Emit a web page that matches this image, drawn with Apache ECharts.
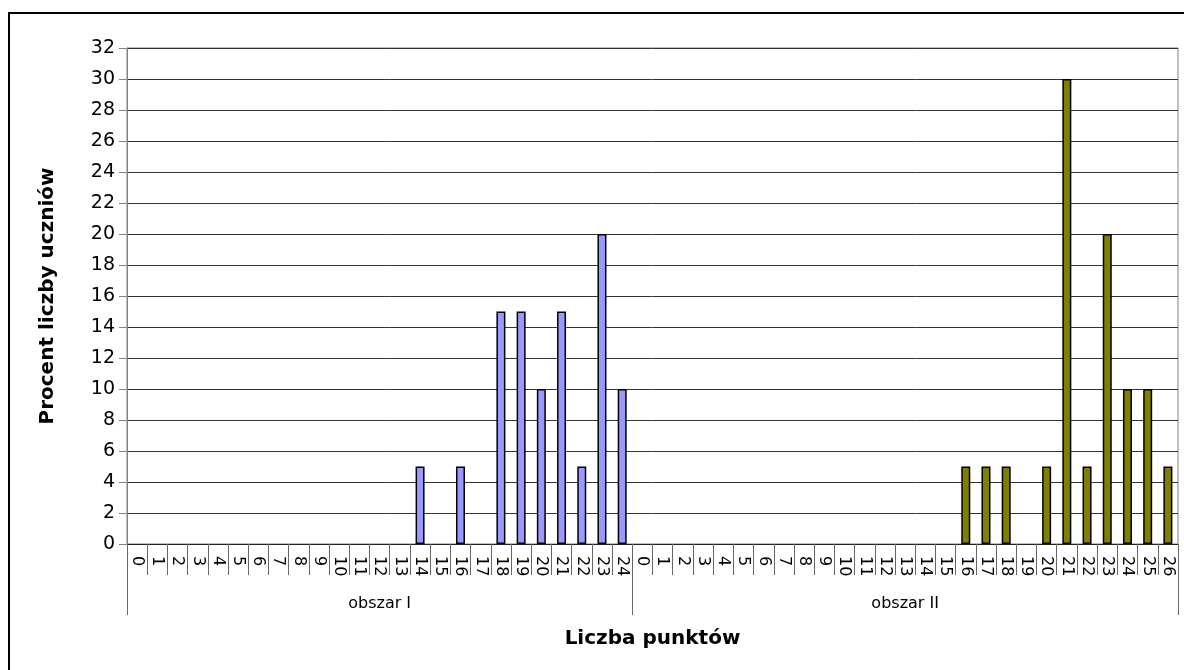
<!DOCTYPE html>
<html>
<head>
<meta charset="utf-8">
<script src="https://cdn.jsdelivr.net/npm/echarts@6/dist/echarts.min.js"></script>
<style>
  html, body { margin: 0; padding: 0; background: #fff; overflow: hidden; }
  #frame { position: absolute; left: 8px; top: 12px; width: 1300px; height: 800px; border: 2.5px solid #000; box-sizing: border-box; }
  #chart { position: absolute; left: 0; top: 0; width: 1184px; height: 670px; }
</style>
</head>
<body>
<div id="frame"></div>
<div id="chart"></div>
<script>
// Category labels (points) for the two areas
const catsArea1 = ['0','1','2','3','4','5','6','7','8','9','10','11','12','13','14','15','16','17','18','19','20','21','22','23','24'];
const catsArea2 = ['0','1','2','3','4','5','6','7','8','9','10','11','12','13','14','15','16','17','18','19','20','21','22','23','24','25','26'];
// Percent of students
const valuesArea1 = [0,0,0,0,0,0,0,0,0,0,0,0,0,0,5,0,5,0,15,15,10,15,5,20,10];
const valuesArea2 = [0,0,0,0,0,0,0,0,0,0,0,0,0,0,0,0,5,5,5,0,5,30,5,20,10,10,5];
const groupNames = ['obszar I', 'obszar II'];
const yTicks = { min: 0, max: 32, interval: 2 };

const categories = catsArea1.concat(catsArea2);
const n1 = catsArea1.length, n2 = catsArea2.length, total = n1 + n2;
function toItems(arr) {
  return arr.map(function (v) {
    return v === 0 ? { value: v, itemStyle: { borderWidth: 0 } } : v;
  });
}
const s1 = toItems(valuesArea1).concat(new Array(n2).fill(null));
const s2 = new Array(n1).fill(null).concat(toItems(valuesArea2));

const chart = echarts.init(document.getElementById('chart'), null, { renderer: 'canvas' });
chart.setOption({
  backgroundColor: 'transparent',
  animation: false,
  grid: { left: 127, right: 6, top: 48, bottom: 126, show: true, borderColor: '#808080', borderWidth: 1 },
  xAxis: [
    {
      type: 'category',
      data: categories,
      boundaryGap: true,
      axisLine: { show: true, lineStyle: { color: '#222', width: 1 } },
      axisTick: { show: true, interval: 0, length: 31, lineStyle: { color: '#666' } },
      axisLabel: { interval: 0, rotate: -90, margin: 12, fontFamily: 'DejaVu Sans', fontSize: 16, color: '#000' },
      splitLine: { show: false },
      name: 'Liczba punktów',
      nameLocation: 'middle',
      nameGap: 85,
      nameTextStyle: { fontFamily: 'DejaVu Sans', fontWeight: 'bold', fontSize: 20, color: '#000' }
    },
    {
      type: 'value',
      min: 0,
      max: total,
      position: 'bottom',
      axisLine: { show: false },
      axisTick: { show: true, customValues: [0, n1, total], length: 71, lineStyle: { color: '#666' } },
      axisLabel: {
        show: true,
        customValues: [n1 / 2, n1 + n2 / 2],
        margin: 52,
        fontFamily: 'DejaVu Sans', fontSize: 16, color: '#000',
        formatter: function (v) { return v < n1 ? groupNames[0] : groupNames[1]; }
      },
      splitLine: { show: false }
    }
  ],
  yAxis: {
    type: 'value',
    min: yTicks.min, max: yTicks.max, interval: yTicks.interval,
    axisLine: { show: true, lineStyle: { color: '#808080' } },
    axisTick: { show: true, length: 8, lineStyle: { color: '#808080' } },
    axisLabel: { margin: 12, fontFamily: 'DejaVu Sans', fontSize: 19, color: '#000' },
    splitLine: { show: true, lineStyle: { color: '#333', width: 1 } },
    name: 'Procent liczby uczniów',
    nameLocation: 'middle',
    nameGap: 69,
    nameRotate: 90,
    nameTextStyle: { fontFamily: 'DejaVu Sans', fontWeight: 'bold', fontSize: 20, color: '#000' }
  },
  series: [
    {
      type: 'bar', name: groupNames[0], xAxisIndex: 0, data: s1,
      barWidth: 9, barGap: '-100%',
      itemStyle: { color: '#9999FF', borderColor: '#000', borderWidth: 1.5 }
    },
    {
      type: 'bar', name: groupNames[1], xAxisIndex: 0, data: s2,
      barWidth: 9, barGap: '-100%',
      itemStyle: { color: '#808000', borderColor: '#000', borderWidth: 1.5 }
    }
  ]
});
</script>
</body>
</html>
